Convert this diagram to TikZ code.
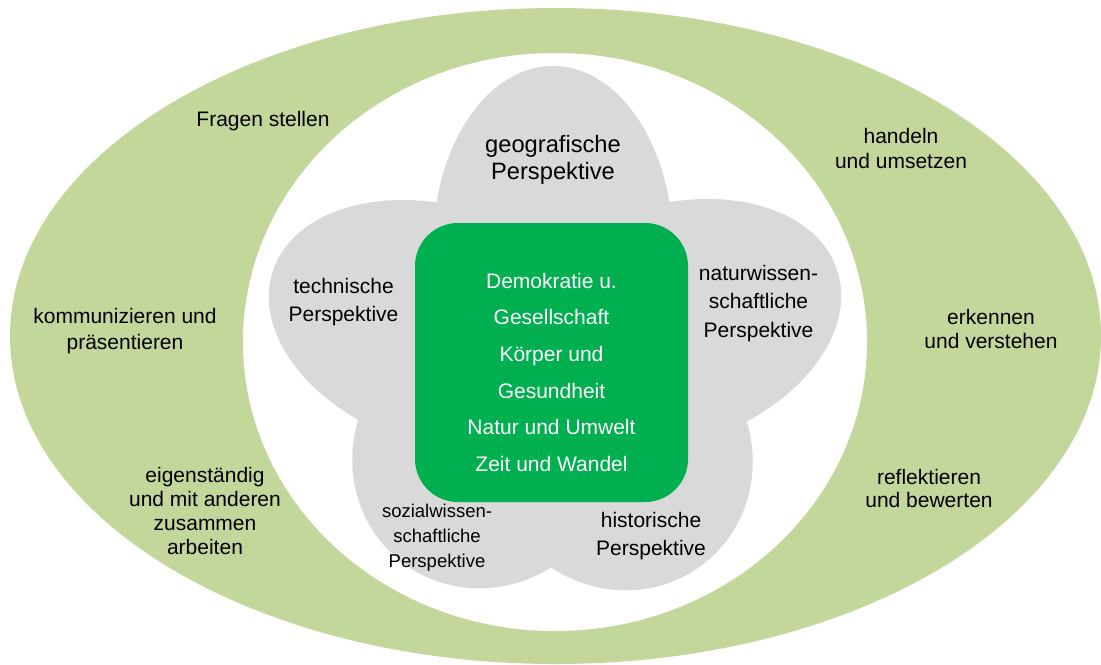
\documentclass[tikz,border=0pt]{standalone}
\usepackage{fontspec}
\setmainfont{Liberation Sans}
\definecolor{ringgreen}{HTML}{C4D79B}
\definecolor{petalgray}{HTML}{D9D9D9}
\definecolor{boxgreen}{HTML}{00B050}
\begin{document}
\begin{tikzpicture}[x=0.5pt, y=-0.5pt,
  lbl/.style={align=center, inner sep=0pt, text=black, font=\fontsize{10.5}{12.25}\selectfont},
  petal/.style={fill=petalgray, draw=none},
  corebox/.style={fill=boxgreen, draw=none, rounded corners=21.5pt,
    minimum width=136.5pt, minimum height=139.5pt, inner sep=0pt},
  coretxt/.style={align=center, inner sep=0pt, text=white, font=\fontsize{10.5}{18.35}\selectfont}]
\useasboundingbox (0,0) rectangle (1101,664);
% rings
\fill[ringgreen] (555.5,336) ellipse [x radius=545.5, y radius=328];
\fill[white] (555,342) ellipse [x radius=312, y radius=289];
% flower
\fill[petal] (553,362) circle [radius=170];
\fill[petal, rotate around={90:(553,246)}] (553,246) ellipse [x radius=180, y radius=120];
\fill[petal, rotate around={162:(444,327)}] (444,327) ellipse [x radius=180, y radius=120];
\fill[petal, rotate around={18:(666,326)}] (666,326) ellipse [x radius=180, y radius=120];
\fill[petal, rotate around={234:(484,455)}] (484,455) ellipse [x radius=135, y radius=130];
\fill[petal, rotate around={306:(621,457)}] (621,457) ellipse [x radius=135, y radius=130];
% core
\node[corebox] (core) at (551.5,362.5) {};
\node[coretxt] (coretext) at (551.5,372.3) {Demokratie u.\\Gesellschaft\\Körper und\\Gesundheit\\Natur und Umwelt\\Zeit und Wandel};
% petal labels
\node[lbl, font=\fontsize{11.85}{13.5}\selectfont] (geo) at (553,160) {geografische\\Perspektive};
\node[lbl, font=\fontsize{10.5}{14.25}\selectfont] (tech) at (343.5,302) {technische\\Perspektive};
\node[lbl, font=\fontsize{10.5}{14.25}\selectfont] (natur) at (758.5,303.5) {naturwissen-\\schaftliche\\Perspektive};
\node[lbl, font=\fontsize{9.25}{12.5}\selectfont] (sozial) at (437,538) {sozialwissen-\\schaftliche\\Perspektive};
\node[lbl, font=\fontsize{10.5}{14}\selectfont] (hist) at (651,536) {historische\\Perspektive};
% ring labels
\node[lbl] (fragen) at (263,121) {Fragen stellen};
\node[lbl, font=\fontsize{10.5}{13}\selectfont] (komm) at (125,331) {kommunizieren und\\präsentieren};
\node[lbl, font=\fontsize{10.5}{12}\selectfont] (eigen) at (205,511) {eigenständig\\und mit anderen\\zusammen\\arbeiten};
\node[lbl, font=\fontsize{10.5}{12.5}\selectfont] (handeln) at (901,148) {handeln\\und umsetzen};
\node[lbl, font=\fontsize{10.5}{12}\selectfont] (erkennen) at (991,329) {erkennen\\und verstehen};
\node[lbl, font=\fontsize{10.5}{11.5}\selectfont] (reflekt) at (929,488) {reflektieren\\und bewerten};
\end{tikzpicture}
\end{document}
